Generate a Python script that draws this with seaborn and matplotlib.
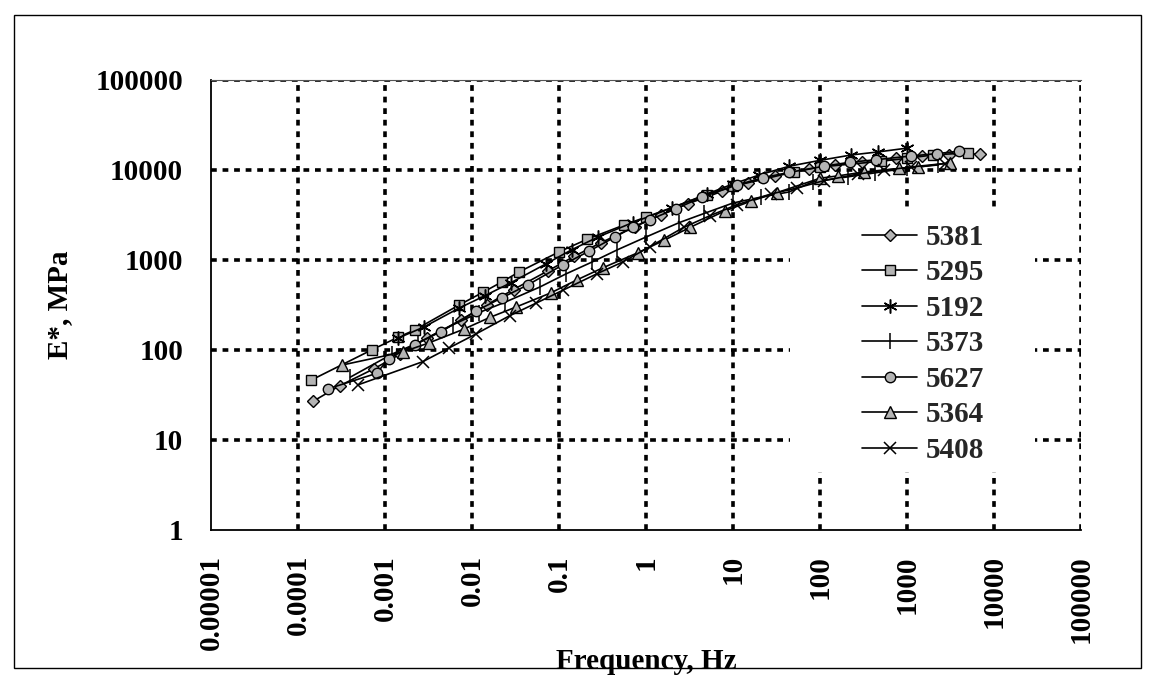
import matplotlib
matplotlib.use("Agg")
import matplotlib.pyplot as plt
from matplotlib.patches import Rectangle
from matplotlib.ticker import FixedLocator, FixedFormatter, NullLocator
import seaborn as sns
import pandas as pd

# ---------------- data ----------------
series_names = ["5381", "5295", "5192", "5373", "5627", "5364", "5408"]

f_5381 = [0.00015, 0.0003, 0.00075, 0.0015, 0.003, 0.0075, 0.015, 0.03, 0.075, 0.15, 0.3, 0.75,
          1.5, 3, 7.5, 15, 30, 75, 150, 300, 750, 1500, 3000, 6900]
E_5381 = [27, 40, 62, 90, 135, 215, 320, 470, 760, 1100, 1550, 2350,
          3200, 4200, 5800, 7200, 8600, 10300, 11400, 12400, 13500, 14300, 14800, 15100]

f_5295 = [0.00014, 0.0007, 0.0014, 0.0022, 0.0071, 0.0135, 0.022, 0.035, 0.1, 0.21, 0.56, 1,
          5, 10, 50, 100, 500, 1000, 2000, 5000]
E_5295 = [46, 100, 138, 167, 316, 440, 570, 740, 1230, 1700, 2450, 3000,
          5300, 6600, 9500, 10800, 12500, 13500, 14700, 15500]

f_5192 = [0.0014, 0.0028, 0.007, 0.014, 0.028, 0.07, 0.14, 0.28, 0.7, 2, 5, 10, 20, 44, 100,
          230, 470, 1000]
E_5192 = [135, 180, 290, 400, 560, 900, 1300, 1800, 2600, 3800, 5400, 7000, 8800, 11000, 12800,
          14700, 15900, 17500]

f_5373 = [0.0004, 0.0012, 0.0024, 0.006, 0.012, 0.024, 0.06, 0.12, 0.24, 0.47, 1.0, 2.4, 4.7,
          10, 21, 44, 83, 210, 430, 1000, 2300]
E_5373 = [50, 90, 120, 190, 260, 340, 500, 700, 950, 1300, 1800, 2600, 3300,
          4300, 5000, 5700, 7400, 8400, 9300, 10500, 11400]

f_5627 = [0.00022, 0.0008, 0.0011, 0.0022, 0.0044, 0.011, 0.022, 0.044, 0.11, 0.22, 0.44, 0.7,
          1.1, 2.2, 4.4, 11, 22, 44, 110, 220, 440, 1100, 2200, 4000]
E_5627 = [37, 55, 80, 115, 160, 270, 380, 530, 880, 1250, 1800, 2300,
          2800, 3700, 5000, 6800, 8200, 9400, 11000, 12200, 13000, 14300, 15200, 16200]

f_5364 = [0.00032, 0.0016, 0.0032, 0.008, 0.016, 0.032, 0.08, 0.16, 0.32, 0.8, 1.6, 3.2, 8, 16,
          32, 100, 160, 320, 800, 1350, 3100]
E_5364 = [68, 95, 120, 170, 230, 300, 430, 600, 820, 1200, 1650, 2300, 3500, 4500,
          5600, 8100, 8600, 9500, 10400, 10800, 12000]

f_5408 = [0.00049, 0.0027, 0.0054, 0.011, 0.027, 0.054, 0.11, 0.27, 0.54, 1.1, 2.7, 5.4, 11, 27,
          54, 110, 270, 540, 1100, 2700]
E_5408 = [41, 74, 105, 150, 240, 330, 460, 700, 950, 1400, 2300, 3100, 4100, 5400,
          6300, 7600, 9000, 9900, 10800, 11800]

x_ticks = [1e-5, 1e-4, 1e-3, 1e-2, 1e-1, 1, 10, 100, 1000, 10000, 100000]
x_tick_labels = ["0.00001", "0.0001", "0.001", "0.01", "0.1", "1", "10", "100", "1000",
                 "10000", "100000"]
y_ticks = [1, 10, 100, 1000, 10000, 100000]
y_tick_labels = ["1", "10", "100", "1000", "10000", "100000"]

x_label = "Frequency, Hz"
y_label = "E*, MPa"

# ---------------- figure ----------------
sns.set_theme(style="white")
plt.rcParams["font.family"] = ["Liberation Serif", "DejaVu Serif"]
plt.rcParams["font.weight"] = "bold"

fig = plt.figure(figsize=(11.55, 6.83), dpi=100)
ax = fig.add_axes([211 / 1155, 1 - 530 / 683, 870 / 1155, 450 / 683])

data = {
    "5381": (f_5381, E_5381),
    "5295": (f_5295, E_5295),
    "5192": (f_5192, E_5192),
    "5373": (f_5373, E_5373),
    "5627": (f_5627, E_5627),
    "5364": (f_5364, E_5364),
    "5408": (f_5408, E_5408),
}
marker_styles = {
    "5381": dict(marker="D", markersize=6.5),
    "5295": dict(marker="s", markersize=7.5),
    "5192": dict(marker=(6, 2, 0), markersize=10, markeredgewidth=1.1),
    "5373": dict(marker="|", markersize=11, markeredgewidth=1.1),
    "5627": dict(marker="o", markersize=7.5),
    "5364": dict(marker="^", markersize=8),
    "5408": dict(marker="x", markersize=8, markeredgewidth=1.1),
}

for name in series_names:
    f, E = data[name]
    df = pd.DataFrame({"f": f, "E": E})
    kw = dict(markeredgewidth=1.0)
    kw.update(marker_styles[name])
    sns.lineplot(data=df, x="f", y="E", ax=ax, color="black", linewidth=1.2,
                 markerfacecolor="#b4b4b4", markeredgecolor="black",
                 sort=False, estimator=None, label=name, zorder=3, **kw)

ax.set_xscale("log")
ax.set_yscale("log")
ax.set_xlim(1e-5, 1e5)
ax.set_ylim(1, 1e5)

ax.xaxis.set_major_locator(FixedLocator(x_ticks))
ax.xaxis.set_major_formatter(FixedFormatter(x_tick_labels))
ax.yaxis.set_major_locator(FixedLocator(y_ticks))
ax.yaxis.set_major_formatter(FixedFormatter(y_tick_labels))
ax.xaxis.set_minor_locator(NullLocator())
ax.yaxis.set_minor_locator(NullLocator())

ax.tick_params(axis="both", which="major", direction="out", length=8, width=1.2,
               color="black", labelsize=21, labelcolor="black")
ax.tick_params(axis="x", pad=10, labelrotation=90)
ax.tick_params(axis="y", pad=12)
for lab in ax.get_xticklabels() + ax.get_yticklabels():
    lab.set_fontweight("bold")

ax.set_axisbelow(True)
ax.grid(True, which="major", color="black", linestyle=(0, (1.6, 1.6)), linewidth=2.6)
# no dotted gridline on the solid left / bottom axis lines
ax.get_xgridlines()[0].set_visible(False)
ax.get_ygridlines()[0].set_visible(False)

for s in ["left", "bottom"]:
    ax.spines[s].set_visible(True)
    ax.spines[s].set_color("black")
    ax.spines[s].set_linewidth(1.3)
ax.spines["top"].set_visible(True)
ax.spines["top"].set_color("#555555")
ax.spines["top"].set_linewidth(0.8)
ax.spines["right"].set_visible(False)

ax.set_xlabel(x_label, fontsize=21, fontweight="bold", color="black")
ax.set_ylabel(y_label, fontsize=21, fontweight="bold", color="black")
ax.xaxis.set_label_coords(0.5, -0.262)
ax.yaxis.set_label_coords(-0.159, 0.5)

# white area behind the legend (covers gridlines)
ax.add_patch(Rectangle(((790 - 211) / 870, (530 - 472) / 450), 245 / 870, 262 / 450,
                       transform=ax.transAxes, facecolor="white", edgecolor="none", zorder=1))

leg = ax.legend(loc="upper left", bbox_to_anchor=((862 - 211) / 870, (530 - 224) / 450),
                frameon=False, fontsize=21, handlelength=1.9, handletextpad=0.3,
                labelspacing=0.29, borderpad=0, borderaxespad=0)
for t in leg.get_texts():
    t.set_fontweight("bold")
leg.set_zorder(5)

fig.patches.append(Rectangle((14 / 1155, 1 - 668 / 683), (1141 - 14) / 1155, (668 - 15) / 683,
                             transform=fig.transFigure, fill=False, edgecolor="black",
                             linewidth=1.0, figure=fig))

fig.savefig("out.png", dpi=100, facecolor="white")
